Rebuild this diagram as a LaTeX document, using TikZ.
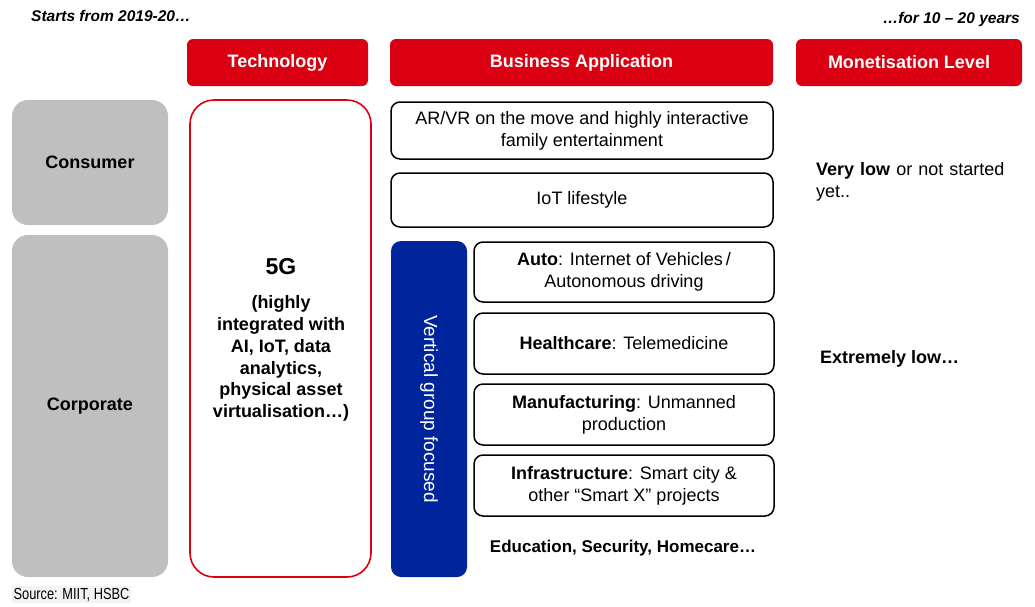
\documentclass[tikz,border=0pt]{standalone}
\usepackage{fontspec}
\setmainfont{Liberation Sans}
\newfontfamily\narrowfont[FakeStretch=0.8]{Liberation Sans}
\definecolor{hsbcred}{HTML}{DB0011}
\definecolor{groupblue}{HTML}{00249C}
\definecolor{rowgray}{HTML}{BFBFBF}
\definecolor{notegray}{HTML}{F2F2F2}

\begin{document}
\begin{tikzpicture}[x=1pt,y=-1pt,
		every node/.style={inner sep=0pt,font=\fontsize{18}{21.7}\selectfont},
		header/.style={fill=hsbcred,text=white,rounded corners=6pt,minimum height=47pt,font=\fontsize{18}{21.7}\selectfont\bfseries},
		segment/.style={fill=rowgray,rounded corners=16pt,minimum width=156pt,font=\fontsize{18}{21.7}\selectfont\bfseries},
		appbox/.style={draw=black,line width=1.5pt,rounded corners=9pt,align=center},
		note/.style={font=\fontsize{15.5}{18}\selectfont\bfseries\itshape}]
		\useasboundingbox (0,0) rectangle (1035,606);
		
		\node[note,anchor=west] (start) at (31,16) {Starts from 2019-20…};
		\node[note,anchor=east] (span) at (1020,19) {…for 10 – 20 years};
		
		\node[header,minimum width=181pt] (tech) at (277.5,62.5) {Technology};
		\node[header,minimum width=383pt] (bus) at (581.5,62.5) {Business Application};
		\node[header,minimum width=226pt] (mon) at (909,62.5) {Monetisation Level};
		
		\node[segment,minimum height=125pt] (consumer) at (90,162.5) {Consumer};
		\node[segment,minimum height=342pt] (corporate) at (90,406) {Corporate};
		
		\node[draw=hsbcred,line width=1.6pt,rounded corners=24pt,minimum width=181pt,minimum height=477pt] (techbox) at (280.5,338.5) {};
		\node[font=\fontsize{23}{26}\selectfont\bfseries] (fiveg) at (281,267) {5G};
		\node[align=center,font=\fontsize{18}{21.7}\selectfont\bfseries] (fivegtext) at (281,358.5) {(highly\\integrated with\\AI, IoT, data\\analytics,\\physical asset\\virtualisation…)};
		
		\node[appbox,minimum width=382pt,minimum height=57pt] (arvr) at (582,130.5) {AR/VR on the move and highly interactive\\family entertainment};
		\node[appbox,minimum width=382pt,minimum height=54pt] (iot) at (582,200) {IoT lifestyle};
		
		\node[fill=groupblue,rounded corners=10pt,minimum width=76pt,minimum height=336pt] (vbar) at (429,409) {};
		\node[rotate=-90,text=white,font=\fontsize{19}{22}\selectfont] (vlabel) at (vbar) {Vertical group focused};
		
		\node[appbox,minimum width=300pt,minimum height=60pt] (auto) at (624,272) {\textbf{Auto}: Internet of Vehicles\,/\\Autonomous driving};
		\node[appbox,minimum width=300pt,minimum height=61pt] (health) at (624,343.5) {\textbf{Healthcare}: Telemedicine};
		\node[appbox,minimum width=300pt,minimum height=61pt] (manuf) at (624,414.5) {\textbf{Manufacturing}: Unmanned\\production};
		\node[appbox,minimum width=300pt,minimum height=61pt] (infra) at (624,485.5) {\textbf{Infrastructure}: Smart city \&\\other “Smart X” projects};
		\node[font=\fontsize{17}{20}\selectfont\bfseries] (others) at (623,548) {Education, Security, Homecare…};
		
		\node[anchor=west,align=left,text width=210pt] (verylow) at (816,182) {\textbf{Very low} or not started\\yet..};
		\node[anchor=west,font=\fontsize{18}{21.7}\selectfont\bfseries] (extlow) at (820,359) {Extremely low…};
		
		\node[fill=notegray,minimum width=119pt,minimum height=17pt,font=\narrowfont\fontsize{16}{18}\selectfont] (source) at (71.5,594.5) {Source: MIIT, HSBC};
	\end{tikzpicture}
\end{document}
